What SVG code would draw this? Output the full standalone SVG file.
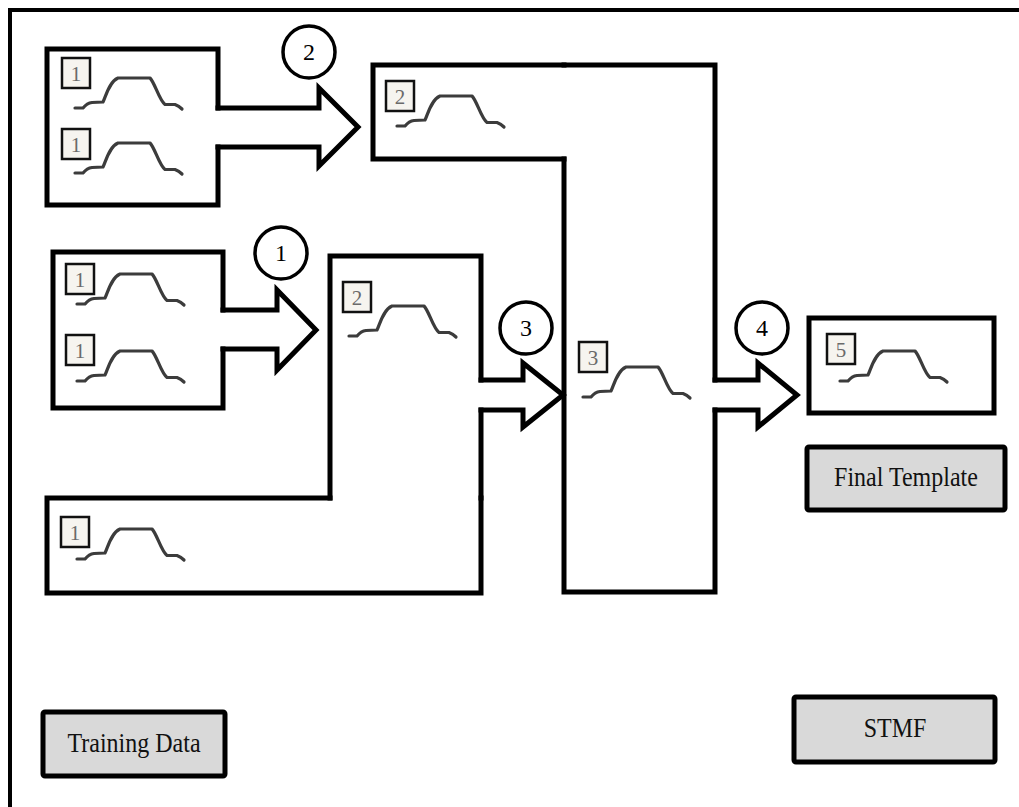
<svg xmlns="http://www.w3.org/2000/svg" xmlns:xlink="http://www.w3.org/1999/xlink" width="1019" height="807" viewBox="0 0 1019 807">
<style>
.ol{fill:none;stroke:#000;stroke-width:5;stroke-linecap:square;stroke-linejoin:miter}
.lab{fill:#f6f4ef;stroke:#111;stroke-width:2.5}
.labt{font-family:"Liberation Serif",serif;font-size:21px;fill:#6a6a6a;text-anchor:middle}
.wv{fill:none;stroke:#3c3c3c;stroke-width:3.2;stroke-linecap:round;stroke-linejoin:round}
.circ{fill:#fff;stroke:#000;stroke-width:3.5}
.ct{font-family:"Liberation Serif",serif;font-size:24px;fill:#000;text-anchor:middle}
.btn{fill:#d9d9d9;stroke:#000;stroke-width:5}
.bt{font-family:"Liberation Serif",serif;font-size:24px;fill:#111;text-anchor:middle}
</style>
<defs>
<path id="wave" d="M0,0 L8,0 Q12,-5 17,-5.5 L28,-6 C31,-12 34,-26 43,-30 L75,-30 C80,-25 84,-8 90,-3.5 L100,-3.5 Q104,-2 107,1"/>
</defs>
<rect x="0" y="0" width="1019" height="807" fill="#fff"/>
<path d="M10,807 V10 H1019" fill="none" stroke="#000" stroke-width="4"/>

<g id="node-train-a">
<path class="ol" d="M218,147 V205 H47 V49 H218 V108"/>
<rect class="lab" x="62" y="58" width="28" height="30"/><text class="labt" x="76" y="81">1</text>
<use href="#wave" class="wv" x="75" y="108"/>
<rect class="lab" x="62" y="129" width="28" height="30"/><text class="labt" x="76" y="152">1</text>
<use href="#wave" class="wv" x="75" y="173"/>
</g>

<g id="node-train-b">
<path class="ol" d="M223,349 V408 H53 V252 H223 V310"/>
<rect class="lab" x="66" y="264" width="28" height="30"/><text class="labt" x="80" y="287">1</text>
<use href="#wave" class="wv" x="77" y="304"/>
<rect class="lab" x="66" y="335" width="28" height="30"/><text class="labt" x="80" y="358">1</text>
<use href="#wave" class="wv" x="77" y="381"/>
</g>

<g id="node-train-c">
<path class="ol" d="M481,498 V593 H47 V498 H330"/>
<rect class="lab" x="61" y="517" width="28" height="30"/><text class="labt" x="75" y="540">1</text>
<use href="#wave" class="wv" x="77" y="559"/>
</g>

<g id="node-2-lower">
<path class="ol" d="M330,498 V256 H481 V380 M481,410 V498"/>
<rect class="lab" x="343" y="282" width="28" height="30"/><text class="labt" x="357" y="305">2</text>
<use href="#wave" class="wv" x="349" y="336"/>
</g>

<g id="node-2-upper">
<path class="ol" d="M564,159 H373 V65 H564"/>
<rect class="lab" x="386" y="81" width="28" height="30"/><text class="labt" x="400" y="104">2</text>
<use href="#wave" class="wv" x="397" y="126"/>
</g>

<g id="node-3">
<path class="ol" d="M564,65 H715 V380 M715,410 V592 H564 V159"/>
<rect class="lab" x="579" y="342" width="28" height="30"/><text class="labt" x="593" y="365">3</text>
<use href="#wave" class="wv" x="583" y="397"/>
</g>

<g id="node-5">
<rect class="ol" x="809" y="318" width="185" height="95"/>
<rect class="lab" x="827" y="334" width="28" height="30"/><text class="labt" x="841" y="357">5</text>
<use href="#wave" class="wv" x="840" y="381"/>
</g>

<g id="connectors">
<path class="ol" d="M223,310 H277 V290 L316,330 L277,370 V349 H223"/>
<path class="ol" d="M218,108 H319 V88 L358,127 L319,166 V147 H218"/>
<path class="ol" d="M481,380 H523 V363 L563,395 L523,427 V410 H481"/>
<path class="ol" d="M715,380 H758 V363 L797,395 L758,427 V410 H715"/>
</g>

<g id="step-1"><circle class="circ" cx="281" cy="253" r="26"/><text class="ct" x="281" y="261">1</text></g>
<g id="step-2"><circle class="circ" cx="309" cy="52" r="26"/><text class="ct" x="309" y="60">2</text></g>
<g id="step-3"><circle class="circ" cx="526" cy="328" r="26"/><text class="ct" x="526" y="336">3</text></g>
<g id="step-4"><circle class="circ" cx="762" cy="328" r="26"/><text class="ct" x="762" y="336">4</text></g>

<g id="legend-final"><rect class="btn" x="807" y="447" width="198" height="63" rx="2"/><text class="bt" transform="translate(906,486) scale(1,1.15)">Final Template</text></g>
<g id="legend-stmf"><rect class="btn" x="794" y="697" width="201" height="65" rx="2"/><text class="bt" transform="translate(895,737) scale(1,1.15)">STMF</text></g>
<g id="legend-training"><rect class="btn" x="43" y="712" width="182" height="64" rx="2"/><text class="bt" transform="translate(134,752) scale(1,1.15)">Training Data</text></g>
</svg>
